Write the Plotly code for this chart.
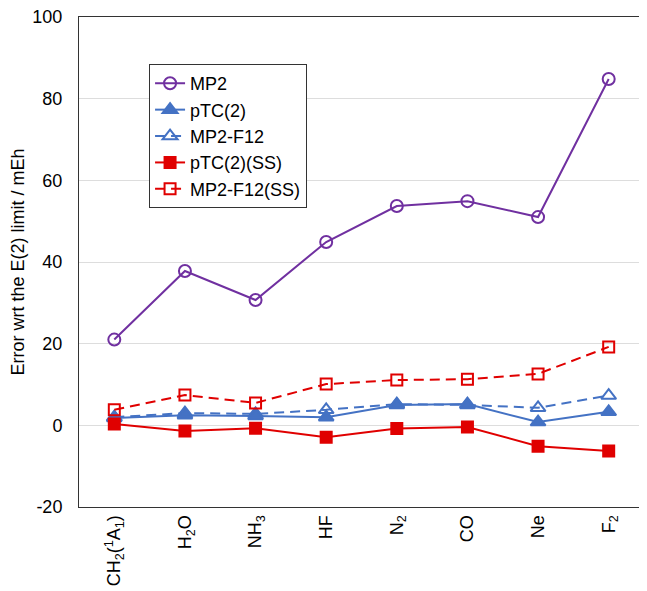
import plotly.graph_objects as go

categories = ["CH<sub>2</sub>(<sup>1</sup>A<sub>1</sub>)", "H<sub>2</sub>O", "NH<sub>3</sub>", "HF",
              "N<sub>2</sub>", "CO", "Ne", "F<sub>2</sub>"]
mp2 = [21.0, 37.8, 30.7, 44.9, 53.7, 54.9, 51.0, 84.8]
ptc2 = [1.8, 2.5, 2.3, 2.0, 5.0, 5.2, 0.8, 3.3]
mp2_f12 = [2.0, 3.0, 2.8, 3.8, 5.2, 5.0, 4.3, 7.3]
ptc2_ss = [0.3, -1.4, -0.7, -2.9, -0.8, -0.4, -5.1, -6.3]
mp2_f12_ss = [3.8, 7.4, 5.5, 10.1, 11.1, 11.3, 12.6, 19.2]
y_ticks = [-20, 0, 20, 40, 60, 80, 100]
y_tick_labels = ["-20", "0", "20", "40", "60", "80", "100"]

PURPLE = "#7030A0"
BLUE = "#4472C4"
RED = "#E00000"

x = list(range(len(categories)))
fig = go.Figure()
series = [
    ("MP2", mp2, PURPLE, "solid", "circle-open", 12),
    ("pTC(2)", ptc2, BLUE, "solid", "triangle-up", 13),
    ("MP2-F12", mp2_f12, BLUE, "10px,6px", "triangle-up-open", 13),
    ("pTC(2)(SS)", ptc2_ss, RED, "solid", "square", 11),
    ("MP2-F12(SS)", mp2_f12_ss, RED, "10px,6px", "square-open", 11),
]
for name, vals, col, dash, sym, sz in series:
    fig.add_trace(go.Scatter(
        x=x, y=vals, name=name, mode="lines+markers",
        line=dict(color=col, width=2, dash=dash),
        marker=dict(symbol=sym, size=sz, color=col, line=dict(color=col, width=2)),
    ))

fig.update_layout(
    width=639, height=583,
    margin=dict(l=71, r=3, t=9, b=84),
    plot_bgcolor="white", paper_bgcolor="white",
    font=dict(family="Liberation Sans, Arial, sans-serif", size=18, color="black"),
    showlegend=True,
    legend=dict(x=0.124, y=0.904, xanchor="left", yanchor="top",
                bordercolor="#333333", borderwidth=1, bgcolor="white",
                font=dict(size=18), tracegroupgap=0, itemwidth=30),
    xaxis=dict(
        range=[-0.5, len(categories) - 0.5],
        tickmode="array", tickvals=x, ticktext=categories,
        tickangle=-90, showgrid=False, showline=True, linecolor="#333333",
        mirror=True, ticks="", automargin=False, zeroline=False,
    ),
    yaxis=dict(
        range=[-20, 100], tickmode="array", tickvals=y_ticks, ticktext=y_tick_labels,
        showgrid=True, gridcolor="#DDDDDD", gridwidth=1,
        showline=True, linecolor="#333333", mirror=True, ticks="",
        ticklabelstandoff=12, ticklabeloverflow="allow",
        zeroline=False, automargin=False,
        title=dict(text="Error wrt the E(2) limit / mEh", standoff=8, font=dict(size=18)),
    ),
)
fig.write_html("out.html")
